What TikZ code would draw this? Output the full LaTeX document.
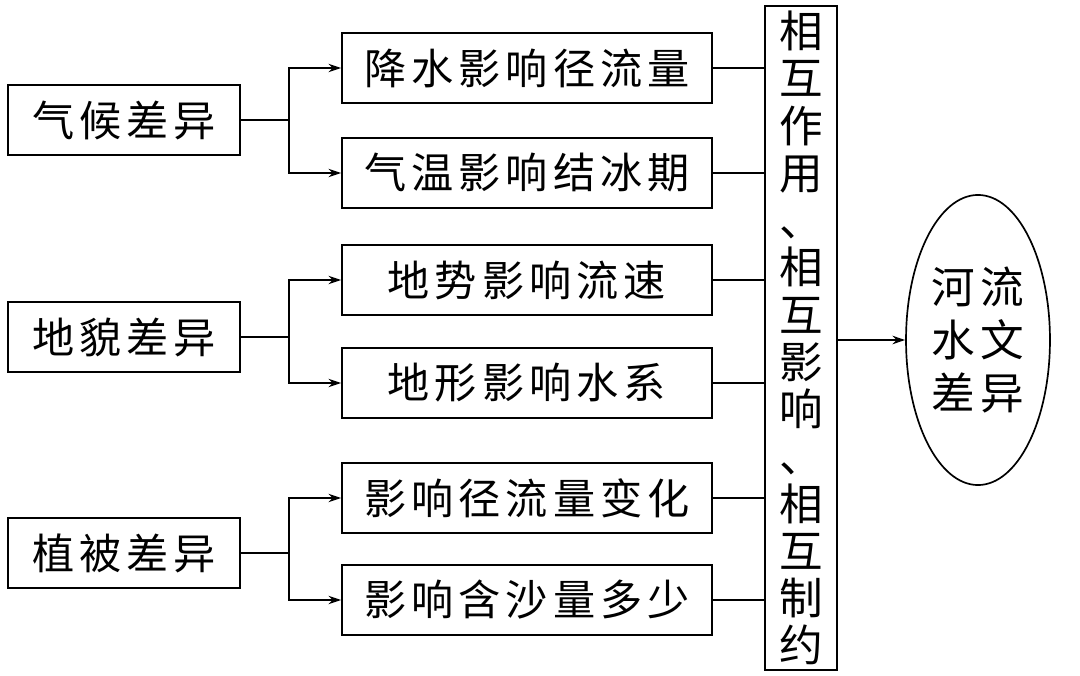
\documentclass[tikz,border=0pt]{standalone}
\usepackage{fontspec}
\newfontfamily\cjk{Noto Sans CJK SC}[LetterSpace=12]
\usetikzlibrary{shapes.geometric, arrows.meta}
\begin{document}
\begin{tikzpicture}[x = 0.025cm, y = -0.025cm, line width = 1.2pt,
  every node/.style={font = \cjk\fontsize{30}{35}\selectfont},
  box/.style={draw, minimum width = 9.25cm, minimum height = 1.75cm},
  cause/.style={draw, minimum width = 5.8cm, minimum height = 1.75cm},
  tip/.style={-{Stealth[length = 9pt, width = 6pt]}}]

  \useasboundingbox (0, 0) rectangle (1080, 676);

  \node [cause] (climate) at (124, 120) { 气候差异 };
  \node [cause] (relief)  at (124, 337) { 地貌差异 };
  \node [cause] (plants)  at (124, 553) { 植被差异 };

  \node [box] (rain)  at (527,  68) { 降水影响径流量 };
  \node [box] (temp)  at (527, 173) { 气温影响结冰期 };
  \node [box] (slope) at (527, 280) { 地势影响流速 };
  \node [box] (shape) at (527, 383) { 地形影响水系 };
  \node [box] (flow)  at (527, 498) { 影响径流量变化 };
  \node [box] (sand)  at (527, 600) { 影响含沙量多少 };

  \node [draw, minimum width = 1.8cm, minimum height = 16.6cm, align = center,
         font = \cjk\fontsize{31}{33.6}\selectfont] (mutual) at (801, 338)
    { 相\\互\\作\\用\\、\\相\\互\\影\\响\\、\\相\\互\\制\\约 };

  \node [draw, ellipse, minimum width = 3.25cm, minimum height = 7.25cm, align = center,
         font = \cjk\fontsize{31}{38}\selectfont] (river) at (978, 340)
    { 河流\\水文\\差异 };

  \foreach \src/\up/\down in {climate/rain/temp, relief/slope/shape, plants/flow/sand} {
    \coordinate (fork) at ([xshift = 1.2cm] \src.east);
    \draw (\src.east) -- (fork);
    \draw [tip] (fork) |- (\up.west);
    \draw [tip] (fork) |- (\down.west);
  }

  \foreach \mid in {rain, temp, slope, shape, flow, sand}
    \draw (\mid.east) -- (\mid.east -| mutual.west);

  \draw [tip] (mutual.east |- river) -- (river.west);

\end{tikzpicture}
\end{document}
